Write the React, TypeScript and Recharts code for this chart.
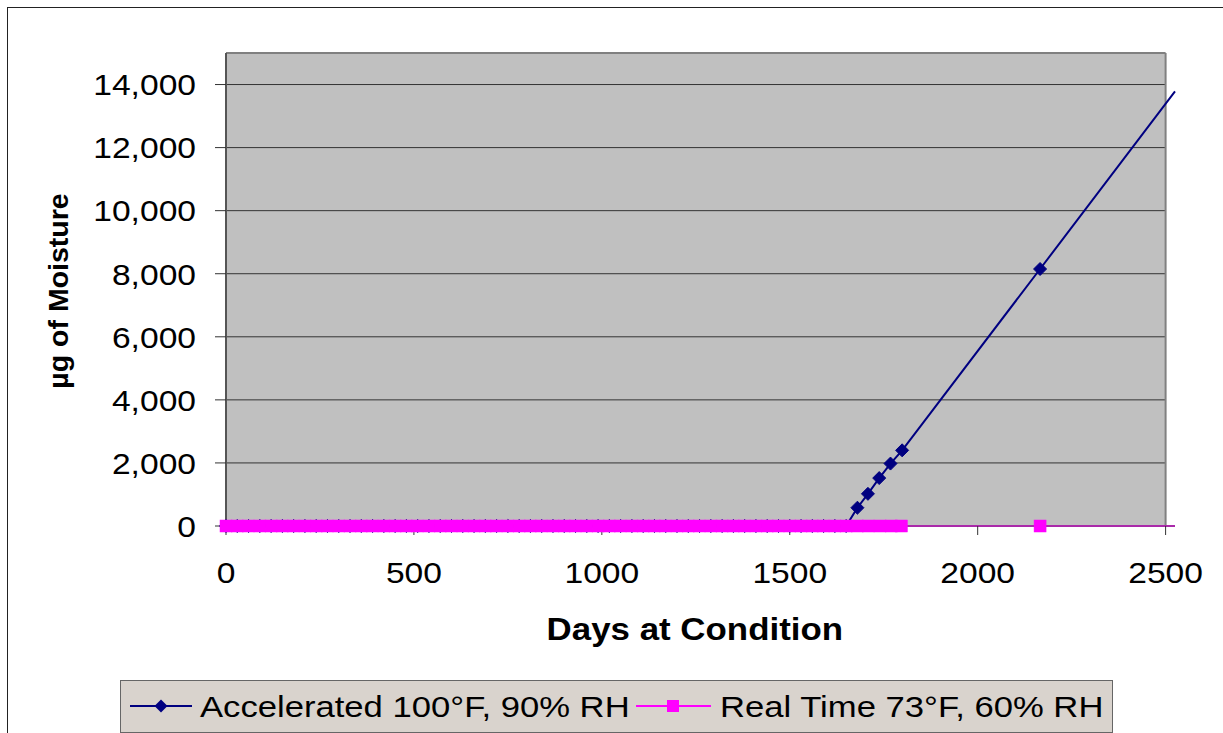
import React from 'react';
import { LineChart, Line, XAxis, YAxis, ReferenceArea, ReferenceLine, Legend } from 'recharts';

const accelDays = [0, 30, 60, 90, 120, 150, 180, 210, 240, 270, 300, 330, 360, 390, 420, 450, 480, 510, 540, 570, 600, 630, 660, 690, 720, 750, 780, 810, 840, 870, 900, 930, 960, 990, 1020, 1050, 1080, 1110, 1140, 1170, 1200, 1230, 1260, 1290, 1320, 1350, 1380, 1410, 1440, 1470, 1500, 1530, 1560, 1590, 1620, 1650, 1680, 1708, 1738, 1768, 1799, 2166, 2525];
const accelMoisture = [0, 0, 0, 0, 0, 0, 0, 0, 0, 0, 0, 0, 0, 0, 0, 0, 0, 0, 0, 0, 0, 0, 0, 0, 0, 0, 0, 0, 0, 0, 0, 0, 0, 0, 0, 0, 0, 0, 0, 0, 0, 0, 0, 0, 0, 0, 0, 0, 0, 0, 0, 0, 0, 0, 0, 0, 580, 1020, 1520, 1980, 2400, 8150, 13780];
const realDays = [0, 30, 60, 90, 120, 150, 180, 210, 240, 270, 300, 330, 360, 390, 420, 450, 480, 510, 540, 570, 600, 630, 660, 690, 720, 750, 780, 810, 840, 870, 900, 930, 960, 990, 1020, 1050, 1080, 1110, 1140, 1170, 1200, 1230, 1260, 1290, 1320, 1350, 1380, 1410, 1440, 1470, 1500, 1530, 1560, 1590, 1620, 1650, 1680, 1710, 1740, 1770, 1797, 2166, 2525];
const realMoisture = [0, 0, 0, 0, 0, 0, 0, 0, 0, 0, 0, 0, 0, 0, 0, 0, 0, 0, 0, 0, 0, 0, 0, 0, 0, 0, 0, 0, 0, 0, 0, 0, 0, 0, 0, 0, 0, 0, 0, 0, 0, 0, 0, 0, 0, 0, 0, 0, 0, 0, 0, 0, 0, 0, 0, 0, 0, 0, 0, 0, 0, 0, 0];

const xTicks = [0, 500, 1000, 1500, 2000, 2500];
const yTicks = [0, 2000, 4000, 6000, 8000, 10000, 12000, 14000];
const seriesNames = ['Accelerated 100°F, 90% RH', 'Real Time 73°F, 60% RH'];
const xTitle = 'Days at Condition';
const yTitle = 'µg of Moisture';

const X_MAX = 2525;
const PLOT_X_MAX = 2500;
const Y_MAX = 15000;

const accelData = accelDays.map((d, i) => ({ day: d, value: accelMoisture[i] }));
const realData = realDays.map((d, i) => ({ day: d, value: realMoisture[i] }));

const FONT = '"Liberation Sans", Arial, sans-serif';
const SX = 1.12;
const LSX = 1.155;
const NAVY = '#000080';
const PINK = '#FF00FF';

const fmt = (v: number) => v.toLocaleString('en-US');

const YTick = (props: any) => {
  const { x, y, payload } = props;
  return (
    <text transform={`translate(${x},${y}) scale(${SX},1)`} textAnchor="end" dy="0.36em" fontSize={30} fontFamily={FONT} fill="#000">
      {fmt(payload.value)}
    </text>
  );
};

const XTick = (props: any) => {
  const { x, y, payload } = props;
  return (
    <text transform={`translate(${x},${y}) scale(${SX},1)`} textAnchor="middle" dy="0.36em" fontSize={30} fontFamily={FONT} fill="#000">
      {payload.value}
    </text>
  );
};

const Diamond = (props: any) => {
  const { cx, cy, index } = props;
  if (index === accelDays.length - 1 || cx == null) return <g key={`ad${index}`} />;
  const r = 6.5;
  return <path key={`ad${index}`} d={`M${cx},${cy - r}L${cx + r},${cy}L${cx},${cy + r}L${cx - r},${cy}Z`} fill={NAVY} stroke={NAVY} strokeWidth={1} />;
};

const Square = (props: any) => {
  const { cx, cy, index } = props;
  if (index === realDays.length - 1 || cx == null) return <g key={`rs${index}`} />;
  const r = 6;
  return <rect key={`rs${index}`} x={cx - r} y={cy - r} width={2 * r} height={2 * r} fill={PINK} stroke={PINK} strokeWidth={0.5} />;
};

const renderLegend = () => (
  <svg width={993} height={53} style={{ display: 'block' }}>
    <rect x={0.5} y={0.5} width={992} height={52} fill="#D9D3CD" stroke="#666" strokeWidth={1} />
    <line x1={10} x2={72} y1={26} y2={26} stroke={NAVY} strokeWidth={2} />
    <path d="M41,19.5L47.5,26L41,32.5L34.5,26Z" fill={NAVY} />
    <text transform={`translate(80,26) scale(${LSX},1)`} dy="0.36em" fontSize={30} fontFamily={FONT} fill="#000">{seriesNames[0]}</text>
    <line x1={516} x2={591} y1={26} y2={26} stroke={PINK} strokeWidth={2} />
    <rect x={547} y={20} width={12} height={12} fill={PINK} />
    <text transform={`translate(600,26) scale(${LSX},1)`} dy="0.36em" fontSize={30} fontFamily={FONT} fill="#000">{seriesNames[1]}</text>
  </svg>
);

const XTitle = (props: any) => {
  const vb = props.viewBox || {};
  const cx = vb.x + (vb.width * (PLOT_X_MAX / X_MAX)) / 2;
  return (
    <text transform={`translate(${cx - 1},640) scale(1.09,1)`} textAnchor="middle" fontSize={32} fontWeight="bold" fontFamily={FONT} fill="#000">
      {xTitle}
    </text>
  );
};

const YTitle = () => (
  <text transform="translate(58,291) rotate(-90)" textAnchor="middle" dy="0.36em" fontSize={28.5} fontWeight="bold" fontFamily={FONT} fill="#000">
    {yTitle}
  </text>
);

export default function App() {
  return (
    <div style={{ position: 'relative', width: 1223, height: 733, overflow: 'hidden', background: '#fff' }}>
      <style>{'body{margin:0;overflow:hidden;background:#fff}'}</style>
      <div style={{ position: 'absolute', left: 7, top: 7, width: 1400, height: 900, border: '1px solid #222' }} />
      <div style={{ position: 'absolute', left: 0, top: 0 }}>
        <LineChart width={1223} height={733} margin={{ top: 53, right: 48, bottom: 87, left: 0 }}>
          <ReferenceArea x1={0} x2={PLOT_X_MAX} y1={0} y2={Y_MAX} fill="#C0C0C0" fillOpacity={1} stroke="none" ifOverflow="visible" />
          {yTicks.filter((v) => v > 0).map((v) => (
            <ReferenceLine key={`g${v}`} segment={[{ x: 0, y: v }, { x: PLOT_X_MAX, y: v }]} stroke="#333" strokeWidth={1} ifOverflow="visible" />
          ))}
          <ReferenceLine segment={[{ x: 0, y: Y_MAX }, { x: PLOT_X_MAX, y: Y_MAX }]} stroke="#808080" strokeWidth={2} ifOverflow="visible" />
          <ReferenceLine segment={[{ x: PLOT_X_MAX, y: 0 }, { x: PLOT_X_MAX, y: Y_MAX }]} stroke="#808080" strokeWidth={2} ifOverflow="visible" />
          <XAxis
            type="number"
            dataKey="day"
            domain={[0, X_MAX]}
            ticks={xTicks}
            interval={0}
            height={120}
            tickSize={9}
            tickMargin={37}
            tick={<XTick />}
            axisLine={{ stroke: '#555', strokeWidth: 1 }}
            tickLine={{ stroke: '#333' }}
            label={<XTitle />}
          />
          <YAxis
            type="number"
            domain={[0, Y_MAX]}
            ticks={yTicks}
            interval={0}
            width={226}
            tickSize={11}
            tickMargin={19}
            tick={<YTick />}
            axisLine={{ stroke: '#555', strokeWidth: 2 }}
            tickLine={{ stroke: '#333' }}
            label={<YTitle />}
          />
          <Line data={accelData} dataKey="value" name={seriesNames[0]} stroke={NAVY} strokeWidth={2} dot={Diamond} activeDot={false} isAnimationActive={false} type="linear" />
          <Line data={realData} dataKey="value" name={seriesNames[1]} stroke={PINK} strokeWidth={2} dot={Square} activeDot={false} isAnimationActive={false} type="linear" />
          <Legend
            layout="horizontal"
            verticalAlign="middle"
            align="center"
            content={renderLegend}
            wrapperStyle={{ position: 'absolute', left: 120, top: 680, width: 993, height: 53, bottom: 'auto', right: 'auto' }}
          />
        </LineChart>
      </div>
    </div>
  );
}
